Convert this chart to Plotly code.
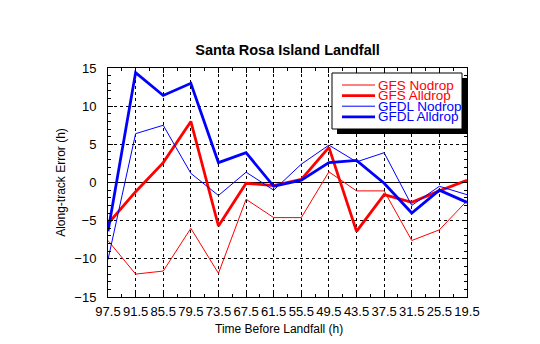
import plotly.graph_objects as go

hours = [97.5, 91.5, 85.5, 79.5, 73.5, 67.5, 61.5, 55.5, 49.5, 43.5, 37.5, 31.5, 25.5, 19.5]
gfs_nodrop = [-7.6, -12.0, -11.6, -6.0, -11.9, -2.2, -4.6, -4.6, 1.4, -1.1, -1.1, -7.6, -6.2, -2.4]
gfs_alldrop = [-5.4, -1.2, 2.6, 8.0, -5.7, -0.1, -0.4, 0.4, 4.6, -6.4, -1.6, -2.6, -1.1, 0.3]
gfdl_nodrop = [-10.1, 6.4, 7.5, 1.2, -1.7, 1.35, -1.0, 2.4, 4.9, 2.7, 3.9, -3.0, -0.5, -1.6]
gfdl_alldrop = [-6.4, 14.4, 11.4, 13.0, 2.6, 3.9, -0.5, 0.3, 2.6, 2.9, -0.1, -4.0, -1.0, -2.6]

names = ["GFS Nodrop", "GFS Alldrop", "GFDL Nodrop", "GFDL Alldrop"]
series = [gfs_nodrop, gfs_alldrop, gfdl_nodrop, gfdl_alldrop]
colors = ["#ff0000", "#ff0000", "#0000ff", "#0000ff"]
widths = [1, 2.8, 1, 2.8]

FONT = "Liberation Sans, Arial, sans-serif"

fig = go.Figure()
for n, s, c, w in zip(names, series, colors, widths):
    fig.add_trace(go.Scatter(x=hours, y=s, mode="lines", name=n,
                             line=dict(color=c, width=w), showlegend=False))

axis_common = dict(showline=True, linecolor="black", linewidth=1, mirror="allticks",
                   ticks="inside", ticklen=5, tickcolor="black",
                   showgrid=True, gridcolor="black", griddash="dot", gridwidth=1,
                   tickfont=dict(family=FONT, size=13, color="black"))

fig.update_xaxes(range=[97.5, 19.5], tickvals=hours, ticktext=[f"{h:.1f}" for h in hours],
                 zeroline=False, ticklabelstandoff=2,
                 minor=dict(tickvals=[h - 3 for h in hours[:-1]], ticks="inside", ticklen=3,
                            tickcolor="black", showgrid=False),
                 **axis_common)
fig.update_yaxes(range=[-15, 15], tickvals=[-15, -10, -5, 0, 5, 10, 15],
                 title=dict(text="Along-track Error (h)", font=dict(family=FONT, size=12, color="black"),
                            standoff=6),
                 zeroline=True, zerolinecolor="black", zerolinewidth=1.2, ticklabelstandoff=8,
                 minor=dict(dtick=1, ticks="inside", ticklen=3, tickcolor="black", showgrid=False),
                 **axis_common)

# custom legend (paper coordinates)
W, H = 540, 344
ml, mr, mt, mb = 108, 73, 68, 47
pw, ph = W - ml - mr, H - mt - mb
def px(x):
    return (x - ml) / pw
def py(y):
    return 1 - (y - mt) / ph

bx0, bx1, by0, by1 = 332, 462, 73, 129
shapes = [
    dict(type="rect", xref="paper", yref="paper", x0=px(bx0 + 5), x1=px(bx1 + 5),
         y0=py(by1 + 5), y1=py(by0 + 5), fillcolor="black", line=dict(width=0), layer="above"),
    dict(type="rect", xref="paper", yref="paper", x0=px(bx0), x1=px(bx1),
         y0=py(by1), y1=py(by0), fillcolor="white", line=dict(color="black", width=1), layer="above"),
]
annotations = []
for i, (n, c, w) in enumerate(zip(names, colors, widths)):
    yy = 85 + i * 10.6
    shapes.append(dict(type="line", xref="paper", yref="paper", x0=px(342), x1=px(375),
                       y0=py(yy), y1=py(yy), line=dict(color=c, width=w), layer="above"))
    annotations.append(dict(x=px(377), y=py(yy), xref="paper", yref="paper", text=n,
                            showarrow=False, xanchor="left", yanchor="middle", borderpad=0,
                            font=dict(family=FONT, size=13.5, color=c)))

annotations.append(dict(x=px(279), y=py(329), xref="paper", yref="paper",
                        text="Time Before Landfall (h)", showarrow=False,
                        xanchor="center", yanchor="middle",
                        font=dict(family=FONT, size=12, color="black")))

fig.update_layout(
    width=W, height=H,
    margin=dict(l=ml, r=mr, t=mt, b=mb),
    paper_bgcolor="white", plot_bgcolor="white",
    title=dict(text="<b>Santa Rosa Island Landfall</b>", x=px(287.5), xanchor="center",
               y=1 - 50 / H, yanchor="middle", xref="paper",
               font=dict(family=FONT, size=14.5, color="black")),
    shapes=shapes, annotations=annotations,
    showlegend=False,
)

fig.write_html("out.html")
